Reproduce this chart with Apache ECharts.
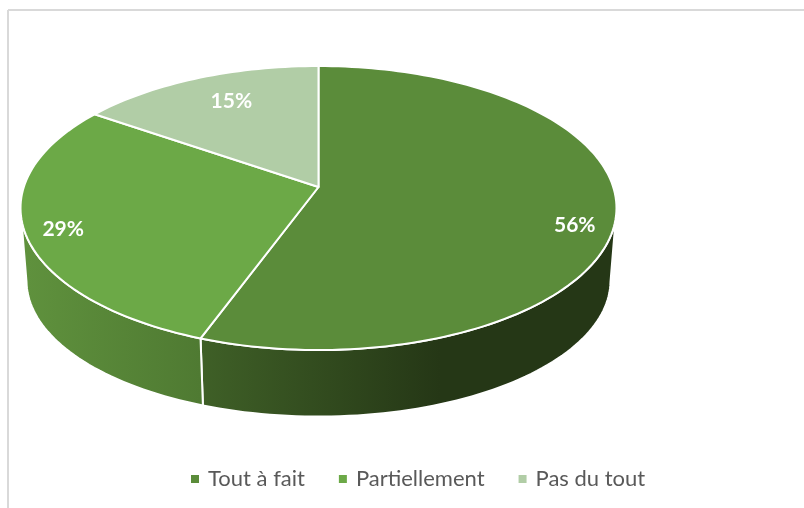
<!DOCTYPE html>
<html><head><meta charset="utf-8">
<style>html,body{margin:0;padding:0;background:#fff}#c{width:804px;height:508px}</style>
<script src="https://cdn.jsdelivr.net/npm/echarts@6/dist/echarts.min.js"></script>
</head><body><div id="c"></div>
<script>
const categories = ['Tout à fait', 'Partiellement', 'Pas du tout'];
const values = [55.6, 29, 15.4];

const topColors = ['#5B8C3A', '#6CA947', '#B1CDA6'];
const wallStops = [['#3F6027', '#253716'], ['#5F913D', '#4F7A32'], null];
const wallRange = [[200, 440], [27, 200], null];
const labelNudge = [[-5, 16], [2, 4], [21, 11]];
const total = values.reduce((a, b) => a + b, 0);

const topDisc = { cx: 318.5, cy: 187, a: 294.7, b: 138.9, k: 0.148 };
const baseDisc = { cx: 318.5, cy: 260.5, a: 288.8, b: 133, k: 0.148 };
const wallFrom = 99, wallTo = 261, labelRadius = 0.88;

function project(d, deg, r) {
  const t = deg * Math.PI / 180, u = r * Math.sin(t), v = r * Math.cos(t), w = 1 + d.k * v;
  return [d.cx + d.a * u / w, d.cy - d.b * v / w];
}
function arc(d, from, to) {
  const pts = [], n = Math.max(2, Math.ceil((to - from) / 1.5));
  for (let i = 0; i <= n; i++) pts.push(project(d, from + (to - from) * i / n, 1));
  return pts;
}

const series = categories.map((name, i) => ({
  type: 'custom', name, coordinateSystem: 'none', silent: true,
  itemStyle: { color: topColors[i] },
  data: [values[i]],
  renderItem(params, api) {
    const before = values.slice(0, i).reduce((a, b) => a + b, 0);
    const start = before / total * 360, end = start + api.value(0) / total * 360;
    const children = [];
    const wa = Math.max(start, wallFrom), wb = Math.min(end, wallTo);
    if (wb > wa && wallStops[i]) {
      const pts = arc(topDisc, wa, wb).concat(arc(baseDisc, wa, wb).reverse());
      children.push({
        type: 'polygon', shape: { points: pts },
        style: {
          fill: new echarts.graphic.LinearGradient(wallRange[i][0], 0, wallRange[i][1], 0,
            [{ offset: 0, color: wallStops[i][0] }, { offset: 1, color: wallStops[i][1] }], true),
          stroke: '#fff', lineWidth: 2
        }
      });
    }
    children.push({
      type: 'polygon',
      shape: { points: [[topDisc.cx, topDisc.cy]].concat(arc(topDisc, start, end)) },
      style: { fill: topColors[i], stroke: '#fff', lineWidth: 2, lineJoin: 'round' }
    });
    const p = project(topDisc, (start + end) / 2, labelRadius);
    children.push({
      type: 'text',
      style: {
        x: p[0] + labelNudge[i][0], y: p[1] + labelNudge[i][1],
        text: Math.round(api.value(0) / total * 100) + '%',
        fill: '#fff', fontFamily: 'Lato', fontWeight: 'bold', fontSize: 21,
        align: 'center', verticalAlign: 'middle'
      }
    });
    return { type: 'group', children };
  }
}));

const chart = echarts.init(document.getElementById('c'), null, { renderer: 'canvas' });
chart.setOption({
  animation: false,
  backgroundColor: '#fff',
  legend: {
    data: categories, left: 191, top: 468, padding: 0, icon: 'rect', itemWidth: 8, itemHeight: 8, itemGap: 34,
    selectedMode: false,
    textStyle: { color: '#595959', fontFamily: 'Lato', fontSize: 22, padding: [0, 0, 0, 4] }
  },
  graphic: [
    { type: 'line', shape: { x1: 8, y1: 10, x2: 804, y2: 10 }, style: { stroke: '#D9D9D9', lineWidth: 2 } },
    { type: 'line', shape: { x1: 8, y1: 10, x2: 8, y2: 508 }, style: { stroke: '#D9D9D9', lineWidth: 2 } }
  ],
  series
});
</script></body></html>
